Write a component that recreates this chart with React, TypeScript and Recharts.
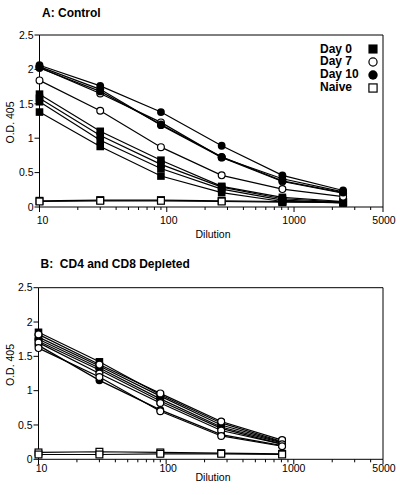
import React from 'react';
import { LineChart, Line, XAxis, YAxis, ReferenceLine, Legend } from 'recharts';

const FONT = '"Liberation Sans", Arial, Helvetica, sans-serif';

// ---------- Panel A: Control ----------
const dilutionsA = [10, 30, 90, 270, 810, 2430];
const aDay0_1 = [1.64, 1.1, 0.68, 0.3, 0.14, 0.08];
const aDay0_2 = [1.58, 1.04, 0.62, 0.29, 0.12, 0.07];
const aDay0_3 = [1.53, 0.97, 0.56, 0.26, 0.1, 0.06];
const aDay0_4 = [1.38, 0.88, 0.45, 0.21, 0.08, 0.06];
const aDay7_1 = [2.03, 1.65, 1.23, 0.72, 0.37, 0.2];
const aDay7_2 = [1.84, 1.4, 0.87, 0.46, 0.26, 0.15];
const aDay10_1 = [2.06, 1.76, 1.38, 0.89, 0.46, 0.24];
const aDay10_2 = [2.04, 1.71, 1.19, 0.72, 0.41, 0.22];
const aDay10_3 = [2.02, 1.68, 1.2, 0.73, 0.38, 0.21];
const aNaive_1 = [0.09, 0.1, 0.1, 0.09, 0.08, 0.07];
const aNaive_2 = [0.08, 0.09, 0.09, 0.08, 0.07, 0.07];

// ---------- Panel B: CD4 and CD8 Depleted ----------
const dilutionsB = [10, 30, 90, 270, 810];
const bDay0_1 = [1.85, 1.42, 0.94, 0.53, 0.26];
const bDay0_2 = [1.78, 1.36, 0.92, 0.5, 0.25];
const bDay0_3 = [1.72, 1.3, 0.85, 0.45, 0.22];
const bDay7_1 = [1.82, 1.38, 0.96, 0.55, 0.28];
const bDay7_2 = [1.7, 1.25, 0.82, 0.42, 0.22];
const bDay7_3 = [1.62, 1.2, 0.7, 0.34, 0.19];
const bDay10_1 = [1.75, 1.33, 0.88, 0.47, 0.24];
const bDay10_2 = [1.66, 1.15, 0.72, 0.36, 0.2];
const bNaive_1 = [0.1, 0.11, 0.1, 0.09, 0.08];
const bNaive_2 = [0.07, 0.07, 0.08, 0.08, 0.07];

// ---------- Axes / legend ----------
const xTicks = [10, 20, 30, 40, 50, 60, 70, 80, 90, 100, 200, 300, 400, 500, 600, 700, 800, 900, 1000, 2000, 3000, 4000, 5000];
const xLabelled = [10, 100, 1000, 5000];
const yTicks = [0, 0.5, 1, 1.5, 2, 2.5];
const legendLabels = ['Day 0', 'Day 7', 'Day 10', 'Naive'];
const titleA = 'A: Control';
const titleB = 'B:  CD4 and CD8 Depleted';

type Marker = 'filledSquare' | 'openCircle' | 'filledCircle' | 'openSquare';
type Series = { key: string; values: number[]; marker: Marker };

const seriesA: Series[] = [
  { key: 'n1', values: aNaive_1, marker: 'openSquare' },
  { key: 'n2', values: aNaive_2, marker: 'openSquare' },
  { key: 'd0_1', values: aDay0_1, marker: 'filledSquare' },
  { key: 'd0_2', values: aDay0_2, marker: 'filledSquare' },
  { key: 'd0_3', values: aDay0_3, marker: 'filledSquare' },
  { key: 'd0_4', values: aDay0_4, marker: 'filledSquare' },
  { key: 'd7_1', values: aDay7_1, marker: 'openCircle' },
  { key: 'd7_2', values: aDay7_2, marker: 'openCircle' },
  { key: 'd10_1', values: aDay10_1, marker: 'filledCircle' },
  { key: 'd10_2', values: aDay10_2, marker: 'filledCircle' },
  { key: 'd10_3', values: aDay10_3, marker: 'filledCircle' },
];

const seriesB: Series[] = [
  { key: 'n1', values: bNaive_1, marker: 'openSquare' },
  { key: 'n2', values: bNaive_2, marker: 'openSquare' },
  { key: 'd10_1', values: bDay10_1, marker: 'filledCircle' },
  { key: 'd10_2', values: bDay10_2, marker: 'filledCircle' },
  { key: 'd0_1', values: bDay0_1, marker: 'filledSquare' },
  { key: 'd0_2', values: bDay0_2, marker: 'filledSquare' },
  { key: 'd0_3', values: bDay0_3, marker: 'filledSquare' },
  { key: 'd7_1', values: bDay7_1, marker: 'openCircle' },
  { key: 'd7_2', values: bDay7_2, marker: 'openCircle' },
  { key: 'd7_3', values: bDay7_3, marker: 'openCircle' },
];

function buildRows(dils: number[], series: Series[]) {
  return dils.map((d, i) => {
    const row: Record<string, number> = { dil: d };
    series.forEach((s) => {
      row[s.key] = s.values[i];
    });
    return row;
  });
}

const rowsA = buildRows(dilutionsA, seriesA);
const rowsB = buildRows(dilutionsB, seriesB);

function MarkerShape({ marker, cx, cy, scale = 1 }: { marker: Marker; cx: number; cy: number; scale?: number }) {
  const s = scale;
  switch (marker) {
    case 'filledSquare':
      return <rect x={cx - 3.8 * s} y={cy - 3.8 * s} width={7.6 * s} height={7.6 * s} fill="#000" />;
    case 'openSquare':
      return <rect x={cx - 3.4 * s} y={cy - 3.4 * s} width={6.8 * s} height={6.8 * s} fill="#fff" stroke="#000" strokeWidth={1.2} />;
    case 'filledCircle':
      return <circle cx={cx} cy={cy} r={3.9 * s} fill="#000" />;
    case 'openCircle':
    default:
      return <circle cx={cx} cy={cy} r={3.4 * s} fill="#fff" stroke="#000" strokeWidth={1.2} />;
  }
}

function makeDot(marker: Marker) {
  return (props: any) => {
    const { cx, cy, index } = props;
    if (cx == null || cy == null) return <g key={`e-${index}`} />;
    return (
      <g key={`${marker}-${index}`}>
        <MarkerShape marker={marker} cx={cx} cy={cy} />
      </g>
    );
  };
}

function makeXTick(labelDy: number) {
  return (props: any) => {
    const { x, y, payload } = props;
    const v = payload.value;
    const major = xLabelled.includes(v);
    const shift = v === 10 ? 3 : v === 100 ? 2 : v === 5000 ? 1 : 0;
    return (
      <g>
        <line x1={x} x2={x} y1={y} y2={y + (major ? 5 : 3)} stroke="#000" strokeWidth={1} />
        {major && (
          <text
            x={x + shift}
            y={y + labelDy}
            textAnchor="middle"
            dominantBaseline="central"
            fill="#000"
            style={{ fontFamily: FONT, fontSize: 10.5 }}
          >
            {v}
          </text>
        )}
      </g>
    );
  };
}

function makeYLabel(cy: number) {
  return () => (
    <text
      transform={`translate(10.3, ${cy}) rotate(-90)`}
      textAnchor="middle"
      dominantBaseline="central"
      fill="#000"
      style={{ fontFamily: FONT, fontSize: 10.5 }}
    >
      O.D. 405
    </text>
  );
}

function makeXLabel(cx: number, cy: number) {
  return () => (
    <text x={cx} y={cy} textAnchor="middle" dominantBaseline="central" fill="#000" style={{ fontFamily: FONT, fontSize: 10.5 }}>
      Dilution
    </text>
  );
}

const legendMarkers: Marker[] = ['filledSquare', 'openCircle', 'filledCircle', 'openSquare'];

const renderLegend = () => (
  <div style={{ fontFamily: FONT, fontWeight: 'bold', fontSize: 12, color: '#000' }}>
    {legendLabels.map((label, i) => (
      <div key={label} style={{ display: 'flex', alignItems: 'center', height: 12.9, lineHeight: '12.9px' }}>
        <span style={{ width: 47, display: 'inline-block' }}>{label}</span>
        <svg width={12} height={12} style={{ display: 'block' }}>
          <MarkerShape marker={legendMarkers[i]} cx={6} cy={6} scale={1.2} />
        </svg>
      </div>
    ))}
  </div>
);

function Panel({
  rows,
  series,
  height,
  top,
  yAxisWidth,
  xAxisHeight,
  tickLabelDy,
  yLabelCy,
  xLabelCy,
  showLegend,
}: {
  rows: Record<string, number>[];
  series: Series[];
  height: number;
  top: number;
  yAxisWidth: number;
  xAxisHeight: number;
  tickLabelDy: number;
  yLabelCy: number;
  xLabelCy: number;
  showLegend: boolean;
}) {
  return (
    <LineChart width={400} height={height} data={rows} margin={{ top, right: 17, bottom: 0, left: 0 }}>
      <XAxis
        dataKey="dil"
        type="number"
        scale="log"
        domain={[10, 5000]}
        ticks={xTicks}
        interval={0}
        tickSize={0}
        tickMargin={0}
        tickLine={false}
        tick={makeXTick(tickLabelDy)}
        axisLine={{ stroke: '#000', strokeWidth: 1 }}
        height={xAxisHeight}
        label={makeXLabel(213, xLabelCy)}
      />
      <YAxis
        type="number"
        domain={[0, 2.5]}
        ticks={yTicks}
        interval={0}
        width={yAxisWidth}
        tickSize={5}
        tickMargin={1}
        tick={{ fontSize: 10.5, fill: '#000', fontFamily: FONT }}
        tickLine={{ stroke: '#000' }}
        axisLine={{ stroke: '#000', strokeWidth: 1 }}
        label={makeYLabel(yLabelCy)}
      />
      <ReferenceLine y={2.5} stroke="#000" strokeWidth={1} />
      <ReferenceLine x={5000} stroke="#000" strokeWidth={1} />
      {series.map((s) => (
        <Line
          key={s.key}
          dataKey={s.key}
          type="linear"
          stroke="#000"
          strokeWidth={1.2}
          dot={makeDot(s.marker)}
          activeDot={false}
          isAnimationActive={false}
        />
      ))}
      {showLegend && (
        <Legend
          layout="horizontal"
          verticalAlign="middle"
          align="center"
          content={renderLegend}
          wrapperStyle={{ position: 'absolute', left: 320, top: 42.5, width: 70, height: 52 }}
        />
      )}
    </LineChart>
  );
}

const titleStyle: React.CSSProperties = {
  position: 'absolute',
  fontFamily: FONT,
  fontWeight: 'bold',
  fontSize: 12,
  lineHeight: '12px',
  whiteSpace: 'pre',
  color: '#000',
};

export default function App() {
  return (
    <div style={{ position: 'absolute', left: 0, top: 0, width: 400, height: 495, background: '#fff' }}>
      <div style={{ position: 'absolute', left: 0, top: 0 }}>
        <Panel
          rows={rowsA}
          series={seriesA}
          height={245}
          top={35}
          yAxisWidth={39.5}
          xAxisHeight={38}
          tickLabelDy={13}
          yLabelCy={122.5}
          xLabelCy={234}
          showLegend
        />
      </div>
      <div style={{ position: 'absolute', left: 0, top: 245 }}>
        <Panel
          rows={rowsB}
          series={seriesB}
          height={250}
          top={42.7}
          yAxisWidth={38.5}
          xAxisHeight={35.7}
          tickLabelDy={9}
          yLabelCy={120}
          xLabelCy={231.5}
          showLegend={false}
        />
      </div>
      <div style={{ ...titleStyle, left: 42, top: 6.8 }}>{titleA}</div>
      <div style={{ ...titleStyle, left: 40.5, top: 257.5 }}>{titleB}</div>
    </div>
  );
}
